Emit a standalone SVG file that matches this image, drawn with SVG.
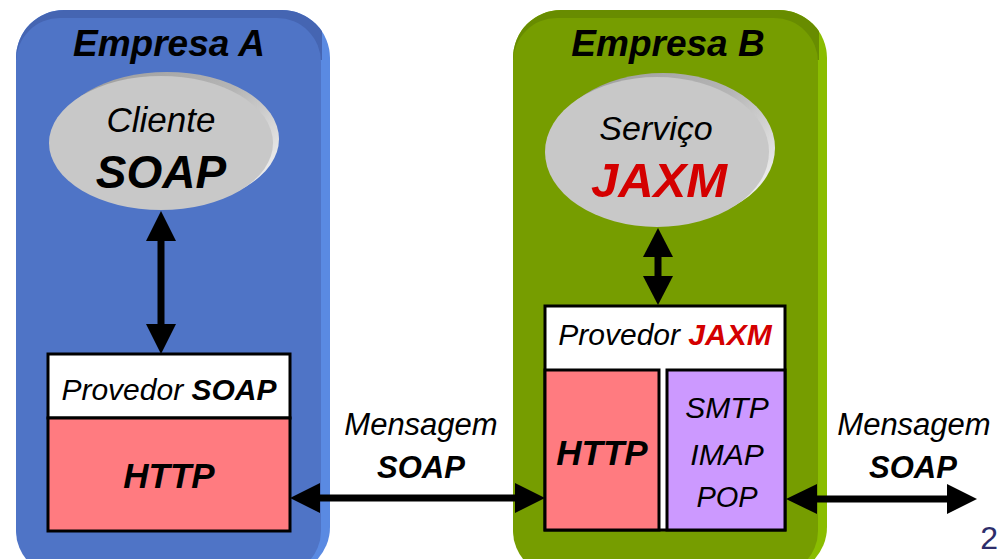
<svg xmlns="http://www.w3.org/2000/svg" width="1001" height="559" viewBox="0 0 1001 559">
<style>
text{font-family:"Liberation Sans",Arial,sans-serif;fill:#000;text-anchor:middle}
.it{font-style:italic}
.bi{font-style:italic;font-weight:bold}
.red{fill:#d40000}
.box{stroke:#000;stroke-width:3}
.ln{stroke:#000;stroke-width:7;fill:none}
.hd{fill:#000}
</style>
<defs>
<clipPath id="clipA"><rect x="16" y="10" width="314" height="565" rx="48"/></clipPath>
<clipPath id="clipB"><rect x="513" y="10" width="314" height="565" rx="48"/></clipPath>
<linearGradient id="rim" x1="0" y1="0" x2="1" y2="0.7">
<stop offset="0" stop-color="#999"/>
<stop offset="0.6" stop-color="#b5b5b5"/>
<stop offset="1" stop-color="#eee"/>
</linearGradient>
</defs>

<g id="empresaA">
<rect x="16" y="10" width="314" height="565" rx="48" fill="#5a8ae2"/>
<rect x="0" y="0" width="322" height="60" fill="#4565b2" clip-path="url(#clipA)"/>
<rect x="16" y="18" width="305" height="557" rx="44" fill="#4f74c6"/>
<text class="bi" x="169" y="56" font-size="37">Empresa A</text>
</g>

<g id="empresaB">
<rect x="513" y="10" width="314" height="565" rx="48" fill="#8abd00"/>
<rect x="500" y="0" width="319" height="60" fill="#688c00" clip-path="url(#clipB)"/>
<rect x="513" y="18" width="305" height="557" rx="44" fill="#769d00"/>
<text class="bi" x="668" y="56" font-size="37">Empresa B</text>
</g>

<g id="clienteSOAP">
<ellipse cx="167" cy="139" rx="112" ry="67" fill="url(#rim)"/>
<ellipse cx="161" cy="143" rx="112" ry="67" fill="#c8c8c8"/>
<text class="it" x="161" y="132" font-size="35">Cliente</text>
<text class="bi" x="161" y="188" font-size="46">SOAP</text>
</g>

<g id="servicoJAXM">
<ellipse cx="663" cy="148" rx="112" ry="75" fill="url(#rim)"/>
<ellipse cx="657" cy="152" rx="112" ry="75" fill="#c8c8c8"/>
<text class="it" x="656" y="140" font-size="34">Serviço</text>
<text class="bi red" x="659" y="197" font-size="49">JAXM</text>
</g>

<g id="provedorSOAP">
<rect class="box" x="48" y="354" width="242" height="64" fill="#fff"/>
<rect class="box" x="48" y="418" width="242" height="113" fill="#ff7b80"/>
<text x="169" y="400" font-size="30"><tspan class="it">Provedor </tspan><tspan class="bi">SOAP</tspan></text>
<text class="bi" x="169" y="488" font-size="35">HTTP</text>
</g>

<g id="provedorJAXM">
<rect class="box" x="545" y="306" width="240" height="224" fill="#fff"/>
<rect class="box" x="545" y="370" width="114" height="160" fill="#ff7b80"/>
<rect class="box" x="667" y="370" width="118" height="160" fill="#cc99ff"/>
<text x="665" y="345" font-size="30"><tspan class="it">Provedor </tspan><tspan class="bi red">JAXM</tspan></text>
<text class="bi" x="602" y="465" font-size="35">HTTP</text>
<text class="it" x="727" y="418" font-size="30">SMTP</text>
<text class="it" x="727" y="465" font-size="30">IMAP</text>
<text class="it" x="727" y="507" font-size="29">POP</text>
</g>

<g id="connectors">
<line class="ln" x1="161" y1="240" x2="161" y2="325"/>
<polygon class="hd" points="161,211 176,241 146,241"/>
<polygon class="hd" points="161,354 176,324 146,324"/>
<line class="ln" x1="658" y1="256" x2="658" y2="277"/>
<polygon class="hd" points="658,228 673,257 643,257"/>
<polygon class="hd" points="658,305 673,276 643,276"/>
<line class="ln" x1="319" y1="498" x2="516" y2="498"/>
<polygon class="hd" points="290,498 320,483 320,513"/>
<polygon class="hd" points="545,498 515,483 515,513"/>
<line class="ln" x1="816" y1="499" x2="948" y2="499"/>
<polygon class="hd" points="786,499 817,484 817,514"/>
<polygon class="hd" points="977,499 947,484 947,514"/>
</g>

<g id="labels">
<text class="it" x="421" y="435" font-size="31">Mensagem</text>
<text class="bi" x="421" y="478" font-size="31">SOAP</text>
<text class="it" x="914" y="435" font-size="31">Mensagem</text>
<text class="bi" x="913" y="478" font-size="31">SOAP</text>
<text x="998" y="549" font-size="32" style="fill:#2d2d6b;text-anchor:end">2</text>
</g>
</svg>
